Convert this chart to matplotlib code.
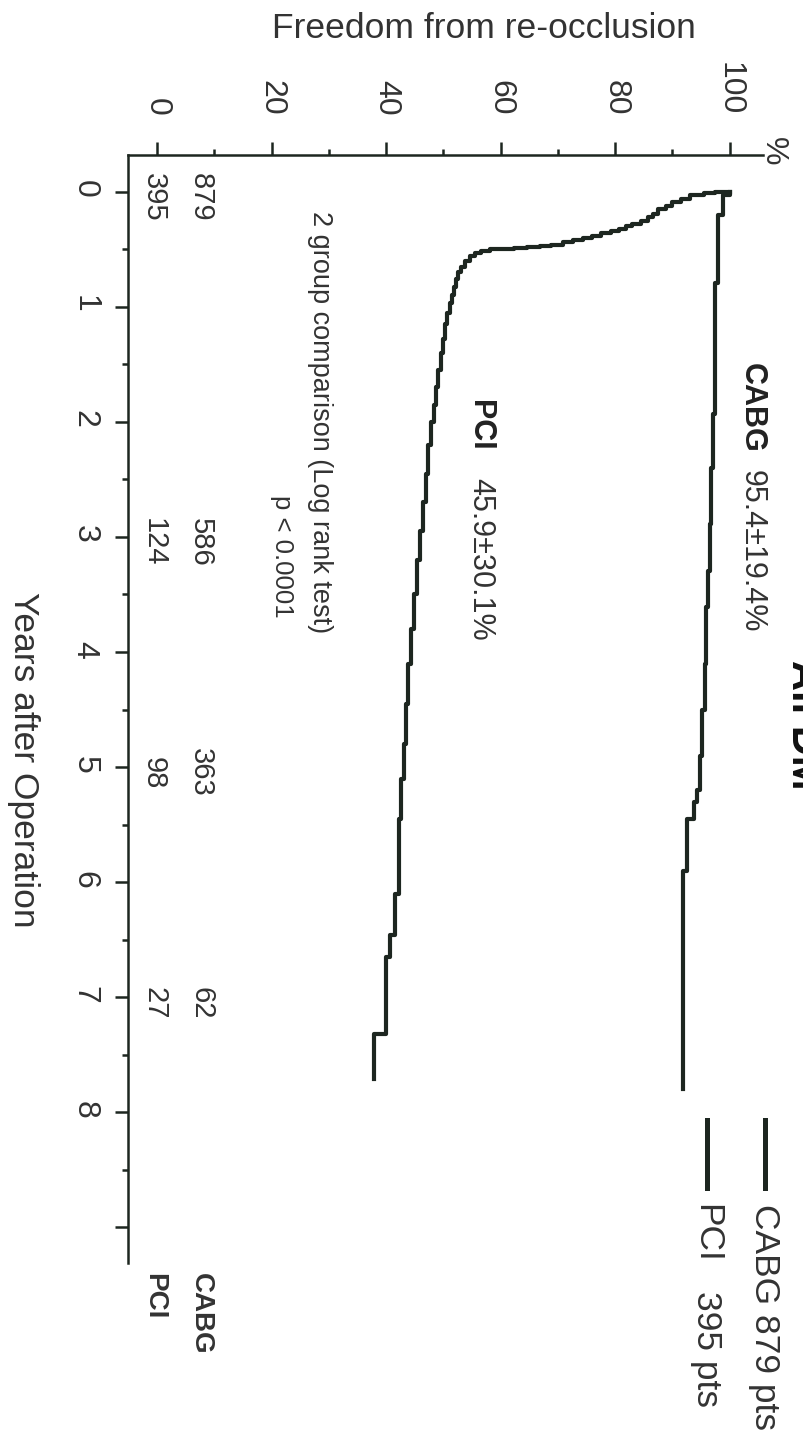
import numpy as np
import matplotlib
matplotlib.use("Agg")
import matplotlib.pyplot as plt
from matplotlib.lines import Line2D

plt.rcParams['font.family'] = ['Liberation Sans', 'DejaVu Sans']

# Kaplan-Meier steps: time of event (years) and freedom from re-occlusion after it (%)
cabg_years = [0.0, 0.03, 0.2, 0.79, 1.93, 2.4, 2.89, 3.3, 3.61, 4.1, 4.5, 4.9,
              5.2, 5.3, 5.45, 5.9, 7.8]
cabg_surv = [100, 98.8, 98.0, 97.4, 97.0, 96.8, 96.5, 96.2, 95.9, 95.6, 95.2, 94.8,
             94.2, 93.7, 92.6, 91.8, 91.8]

pci_years = [0.00, 0.005, 0.01, 0.03, 0.06, 0.09, 0.12, 0.15, 0.19, 0.22, 0.25, 0.28, 0.30,
             0.32, 0.34, 0.36, 0.38, 0.40, 0.42, 0.44, 0.46, 0.47, 0.48, 0.49, 0.50, 0.51,
             0.53, 0.56, 0.60, 0.65, 0.70, 0.76, 0.83, 0.90, 0.97, 1.05, 1.15, 1.28, 1.40,
             1.55, 1.70, 1.85, 2.0, 2.2, 2.45, 2.7, 2.95, 3.2, 3.5, 3.8, 4.1, 4.45, 4.8,
             5.1, 5.45, 6.1, 6.46, 6.65, 7.32, 7.71]
pci_surv = [100, 97.5, 95.5, 93.0, 91.5, 90.0, 88.8, 87.5, 86.6, 85.8, 84.5, 83.0, 81.8,
            80.6, 79.2, 77.6, 76.0, 74.4, 72.6, 70.8, 68.8, 66.8, 64.6, 62.4, 58.2, 56.5,
            55.5, 54.6, 53.8, 53.1, 52.6, 52.2, 51.8, 51.5, 51.1, 50.7, 50.3, 49.9, 49.5,
            49.1, 48.7, 48.3, 47.9, 47.4, 46.9, 46.4, 45.9, 45.4, 44.9, 44.4, 43.9, 43.5,
            43.1, 42.6, 42.2, 41.6, 40.7, 39.9, 37.9, 37.9]

# patients at risk
risk_years = [0, 3, 5, 7]
cabg_at_risk = [879, 586, 363, 62]
pci_at_risk = [395, 124, 98, 27]

groups = ['CABG', 'PCI']
group_pts = [879, 395]
group_stats = ['95.4\u00b119.4%', '45.9\u00b130.1%']

year_ticks = list(range(0, 10))
year_labels = [str(y) for y in range(0, 9)] + ['']
pct_ticks = [0, 20, 40, 60, 80, 100]

ink = '#1d2620'
grey = '#333333'

fig = plt.figure(figsize=(8.04, 14.46), dpi=100)
# the whole chart is laid out turned a quarter turn: percent runs left->right, years top->bottom
ax = fig.add_axes([0.1592, 0.1266, 0.7898, 0.7662])
ax.set_xlim(-5.06, 105.8)
ax.set_ylim(9.31, -0.32)

ax.step(cabg_surv, cabg_years, where='pre', color=ink, lw=3.0)
ax.step(pci_surv, pci_years, where='pre', color=ink, lw=3.0)

for side in ['right', 'bottom']:
    ax.spines[side].set_visible(False)
for side in ['left', 'top']:
    ax.spines[side].set_linewidth(1.8)
    ax.spines[side].set_color(ink)

ax.xaxis.tick_top()
ax.set_xticks(pct_ticks)
ax.set_xticks([10, 30, 50, 70, 90], minor=True)
ax.set_yticks(year_ticks)
ax.set_yticklabels(year_labels)
ax.set_yticks(np.arange(0.5, 9, 1.0), minor=True)
ax.tick_params(which='major', length=9.5, width=1.8, color=ink, labelsize=23,
               labelcolor=grey, labelrotation=270)
ax.tick_params(which='minor', length=4.5, width=1.8, color=ink)
ax.tick_params(axis='x', which='major', pad=19)
ax.tick_params(axis='y', which='major', pad=11)


def vtext(x, y, s, **kw):
    kw.setdefault('color', grey)
    kw.setdefault('ha', 'left')
    kw.setdefault('va', 'center')
    return ax.text(x, y, s, rotation=270, rotation_mode='anchor', **kw)


ax.text(0.56, 1.1146, 'Freedom from re-occlusion', transform=ax.transAxes,
        ha='center', va='center', fontsize=25.5, color=grey)
vtext(-0.164, 0.454, 'Years after Operation', transform=ax.transAxes,
      ha='center', fontsize=25.5)
vtext(1.016, 1.003, '%', transform=ax.transAxes, ha='center', fontsize=23)
vtext(1.046, 0.4856, 'All DM', transform=ax.transAxes, ha='center', va='baseline',
      fontsize=30, fontweight='bold', color='#111111')

# curve annotations
vtext(103.8, 1.49, groups[0], fontsize=22, fontweight='bold', color='#222222')
vtext(103.8, 2.42, group_stats[0], fontsize=22)
vtext(56.4, 1.81, groups[1], fontsize=22, fontweight='bold', color='#222222')
vtext(56.4, 2.49, group_stats[1], fontsize=22)
vtext(28.4, 0.17, '2 group comparison (Log rank test)', fontsize=19.5)
vtext(21.8, 3.17, 'p < 0.0001', ha='center', fontsize=18.5)

# numbers at risk
narrow = ['Liberation Sans Narrow', 'Liberation Sans', 'DejaVu Sans']
for yr, nc, npci in zip(risk_years, cabg_at_risk, pci_at_risk):
    vtext(7.7, yr + 0.05, str(nc), ha='center', fontsize=21, family=narrow)
    vtext(-0.5, yr + 0.05, str(npci), ha='center', fontsize=21, family=narrow)
vtext(7.7, 9.4, groups[0], fontsize=20, fontweight='bold', family=narrow)
vtext(-0.5, 9.4, groups[1], fontsize=20, fontweight='bold', family=narrow)

# legend, drawn by hand so it can be turned with the rest
leg_x = [1.0031, 0.9118]
for xa in leg_x:
    ax.add_line(Line2D([xa, xa], [0.129, 0.0677], transform=ax.transAxes,
                       color=ink, lw=3.6, clip_on=False))
vtext(leg_x[0], 0.0532, f'{groups[0]} {group_pts[0]} pts', transform=ax.transAxes,
      fontsize=25.5)
vtext(leg_x[1], 0.0532, groups[1], transform=ax.transAxes, fontsize=25.5)
vtext(leg_x[1], -0.0255, f'{group_pts[1]} pts', transform=ax.transAxes, fontsize=25.5)

fig.savefig('out.png', dpi=100)
